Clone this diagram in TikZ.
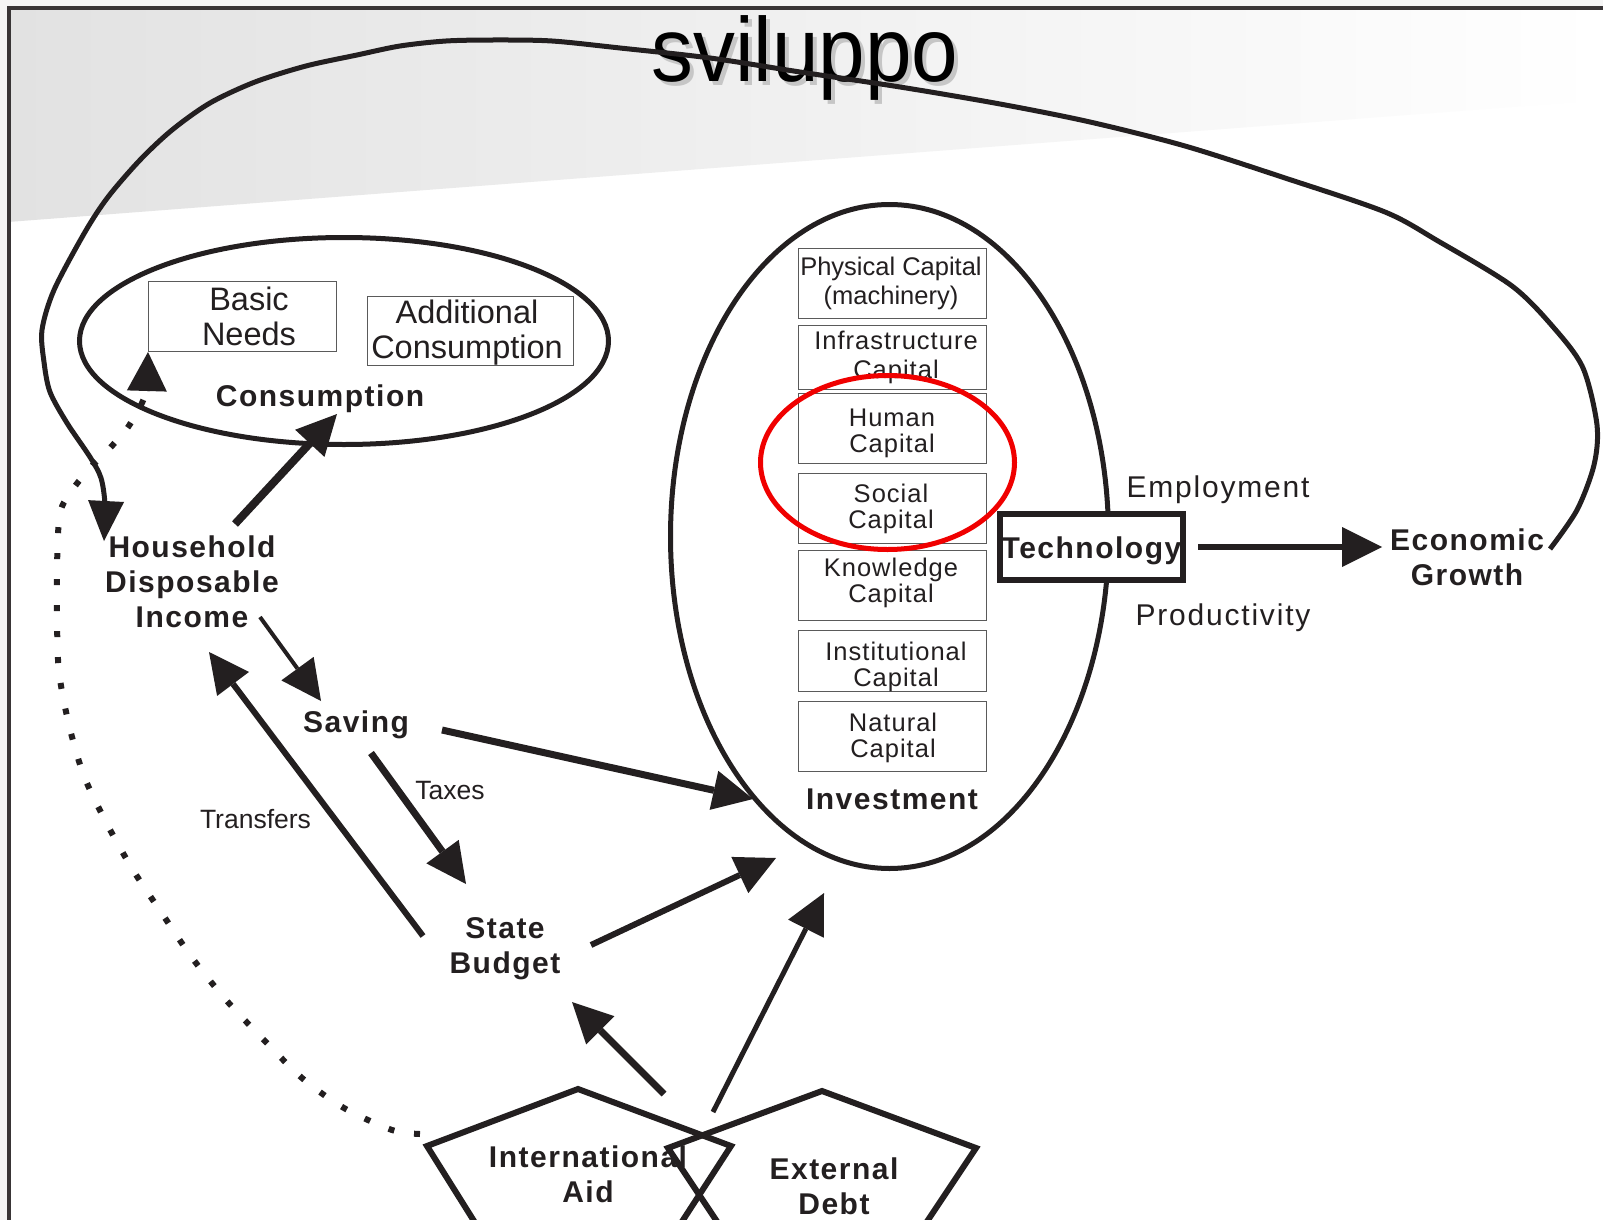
\documentclass[tikz,border=0pt]{standalone}
\usepackage{fontspec}
\setmainfont{Liberation Sans}
\newfontfamily\lbf[LetterSpace=5]{Liberation Sans}
\newfontfamily\rsp[LetterSpace=6]{Liberation Sans}
\newfontfamily\csp[LetterSpace=4]{Liberation Sans}
\newfontfamily\ttl[FakeStretch=0.92]{Liberation Sans}
\usetikzlibrary{arrows.meta,shapes.geometric}
\definecolor{ink}{HTML}{231F20}
\definecolor{boxgray}{HTML}{5A5A5A}
\definecolor{bandgray}{HTML}{E2E2E2}
\definecolor{hired}{HTML}{F00000}
\begin{document}
\begin{tikzpicture}[x=1pt,y=-1pt,
  lbl/.style={font=\lbf\bfseries\fontsize{30}{35}\selectfont, align=center, inner sep=0pt, text=ink},
  rlbl/.style={font=\rsp\fontsize{30}{35}\selectfont, align=center, inner sep=0pt, text=ink},
  btxt/.style={font=\fontsize{32.5}{35}\selectfont, align=center, inner sep=0pt, text=ink},
  stxt/.style={font=\fontsize{26.5}{30}\selectfont, align=center, inner sep=0pt, text=ink},
  ctxt/.style={font=\csp\fontsize{25.5}{26}\selectfont, align=center, inner sep=0pt, text=ink},
  ctxtw/.style={font=\csp\fontsize{25.5}{29}\selectfont, align=center, inner sep=0pt, text=ink},
  ctxtp/.style={font=\fontsize{25.5}{29}\selectfont, align=center, inner sep=0pt, text=ink},
  capbox/.style={draw=boxgray, line width=1.4pt, minimum width=187.6pt, inner sep=0pt},
  oval/.style={ellipse, draw=ink, line width=5pt, inner sep=0pt},
  flow/.style={draw=ink, line width=#1, -{Triangle[length=40pt,width=40pt,line width=0pt]}},
  flow/.default=7pt,
  pent/.style={draw=ink, line width=6pt, line join=miter},
]
% page and background
\useasboundingbox (0,0) rectangle (1603,1220);
\clip (0,0) rectangle (1603,1220);
\fill[white] (0,0) rectangle (1603,1220);
\fill[gray!8] (0,0) rectangle (1603,8);
\fill[gray!8] (0,0) rectangle (8,1220);
\shade[left color=bandgray, right color=white] (8,8) -- (1603,8) -- (1603,100) -- (8,222) -- cycle;
\draw[line width=4pt, draw=ink!90] (8.5,1220) -- (8.5,8.5) -- (1603,8.5);

% title with shadow
\node[font=\ttl\fontsize{91}{100}\selectfont, text=gray!45, anchor=base, inner sep=0pt] (titleshadow) at (809,86) {sviluppo};
\node[font=\ttl\fontsize{91}{100}\selectfont, text=black, anchor=base, inner sep=0pt] (title) at (805,82) {sviluppo};

% consumption
\node[oval, minimum width=529pt, minimum height=207pt] (cons) at (344,341) {};
\node[capbox, minimum width=187.6pt, minimum height=69.6pt] (basic) at (242.5,316.5) {};
\node[btxt] (basict) at (249,316) {Basic\\Needs};
\node[capbox, minimum width=205.6pt, minimum height=68.6pt] (addl) at (470.5,331) {};
\node[btxt] (addlt) at (467,333) {Additional\\Consumption};
\node[lbl] (consl) at (320,398.4) {Consumption};

% investment
\node[oval, minimum width=438pt, minimum height=664pt] (inv) at (889.5,536.5) {};
\node[capbox, minimum height=69.6pt] (b1) at (892.5,283.5) {};
\node[capbox, minimum height=63.6pt] (b2) at (892.5,357.5) {};
\node[capbox, minimum height=69.6pt] (b3) at (892.5,428.5) {};
\node[capbox, minimum height=69.6pt] (b4) at (892.5,508.5) {};
\node[capbox, minimum height=69.6pt] (b5) at (892.5,585.5) {};
\node[capbox, minimum height=60.6pt] (b6) at (892.5,661) {};
\node[capbox, minimum height=69.6pt] (b7) at (892.5,736.5) {};
\node[ctxtp] (t1) at (891,283) {Physical Capital\\(machinery)};
\node[ctxtw] (t2) at (896,357) {Infrastructure\\Capital};
\node[ctxt] (t3) at (892,433.4) {Human\\Capital};
\node[ctxt] (t4) at (891,509.4) {Social\\Capital};
\node[ctxt] (t5) at (891,583.4) {Knowledge\\Capital};
\node[ctxt] (t6) at (896,666.4) {Institutional\\Capital};
\node[ctxt] (t7) at (893,737.4) {Natural\\Capital};
\node[lbl] (invl) at (892,799) {Investment};
\node[ellipse, draw=hired, line width=5pt, minimum width=254pt, minimum height=174pt, inner sep=0pt] (focus) at (887.5,462.5) {};

% technology and growth
\node[draw=ink, line width=6pt, fill=white, minimum width=183pt, minimum height=66pt, inner sep=0pt] (tech) at (1091.5,547) {};
\node[lbl] (techt) at (1091.5,550.4) {Technology};
\node[rlbl] (emp) at (1218,489.4) {Employment};
\node[rlbl] (prod) at (1223,617.4) {Productivity};
\node[lbl] (eg) at (1467,557.2) {Economic\\Growth};

% flows
\node[lbl] (hdi) at (192,582.2) {Household\\Disposable\\Income};
\node[lbl] (sav) at (356,724.4) {Saving};
\node[lbl] (sb) at (505,948.4) {State\\Budget};
\node[stxt] (taxes) at (450,790.7) {Taxes};
\node[stxt] (transfers) at (255.5,818.7) {Transfers};

\coordinate (hdiup) at (235,524);   \coordinate (consin) at (337,414);
\coordinate (hdidown) at (260,617); \coordinate (savin) at (321,701);
\coordinate (savout) at (442,730);  \coordinate (invin1) at (753,799);
\coordinate (taxout) at (371,753);  \coordinate (sbin) at (466,884);
\coordinate (sbout1) at (423,936);  \coordinate (hdiin2) at (209,652);
\coordinate (sbout2) at (591,945);  \coordinate (invin2) at (776,858);
\coordinate (iaout) at (664,1094);  \coordinate (sbin2) at (572,1002);
\coordinate (edout) at (713,1112);  \coordinate (invin3) at (824,893);
\coordinate (techout) at (1198,547); \coordinate (egin) at (1382,547);

\draw[flow=8pt] (hdiup) -- (consin);
\draw[flow=4pt] (hdidown) -- (savin);
\draw[flow=7pt] (savout) -- (invin1);
\draw[flow=7pt] (taxout) -- (sbin);
\draw[flow=6pt] (sbout1) -- (hdiin2);
\draw[flow=6pt] (sbout2) -- (invin2);
\draw[flow=7pt] (iaout) -- (sbin2);
\draw[flow=5pt] (edout) -- (invin3);
\draw[flow=6pt] (techout) -- (egin);

% big feedback loop
\coordinate (egtail) at (1550,549);
\coordinate (hdiin) at (104,541);
\draw[ink, line width=5pt, -{Triangle[length=40pt,width=36pt,line width=0pt]}]
  plot[smooth, tension=0.5] coordinates {(egtail) (1577,510) (1594,465) (1597,425) (1583,368)
   (1554,328) (1512,286) (1438,241) (1385,212) (1285,178) (1185,146) (1090,122) (1000,104)
   (900,87) (800,72) (710,58) (620,48) (552,41) (495,40) (446,41) (400,46) (357,55) (306,66)
   (255,82) (210,103) (172,130) (140,160) (108,197) (85,232) (54,290) (42,330) (44,362)
   (50,392) (67,423) (90,457) (101,478) (105,505) (hdiin)};

% dotted aid path
\coordinate (iadot) at (420,1134);
\draw[ink, line width=6pt, dash pattern=on 6pt off 20pt, -{Triangle[length=39pt,width=40pt,line width=0pt]}]
  plot[smooth, tension=0.5] coordinates {(iadot) (392,1130) (344,1108) (302,1078) (263,1039)
   (227,1001) (193,959) (163,915) (133,870) (107,824) (84,776) (69,725) (59,672) (57,620)
   (57,567) (60,513) (73,489) (90,468) (108,450) (126,430) (140,407) (146,390) (basic.south west)};

% pentagons
\draw[pent] (578,1089) -- (731,1146) -- (672,1237) -- (484,1237) -- (427,1146) -- cycle;
\draw[pent] (822,1091) -- (976,1148) -- (916,1238) -- (728,1238) -- (668,1148) -- cycle;
\node[lbl] (ia) at (588,1174.2) {International\\Aid};
\node[lbl] (ed) at (834,1186.2) {External\\Debt};
\end{tikzpicture}
\end{document}
